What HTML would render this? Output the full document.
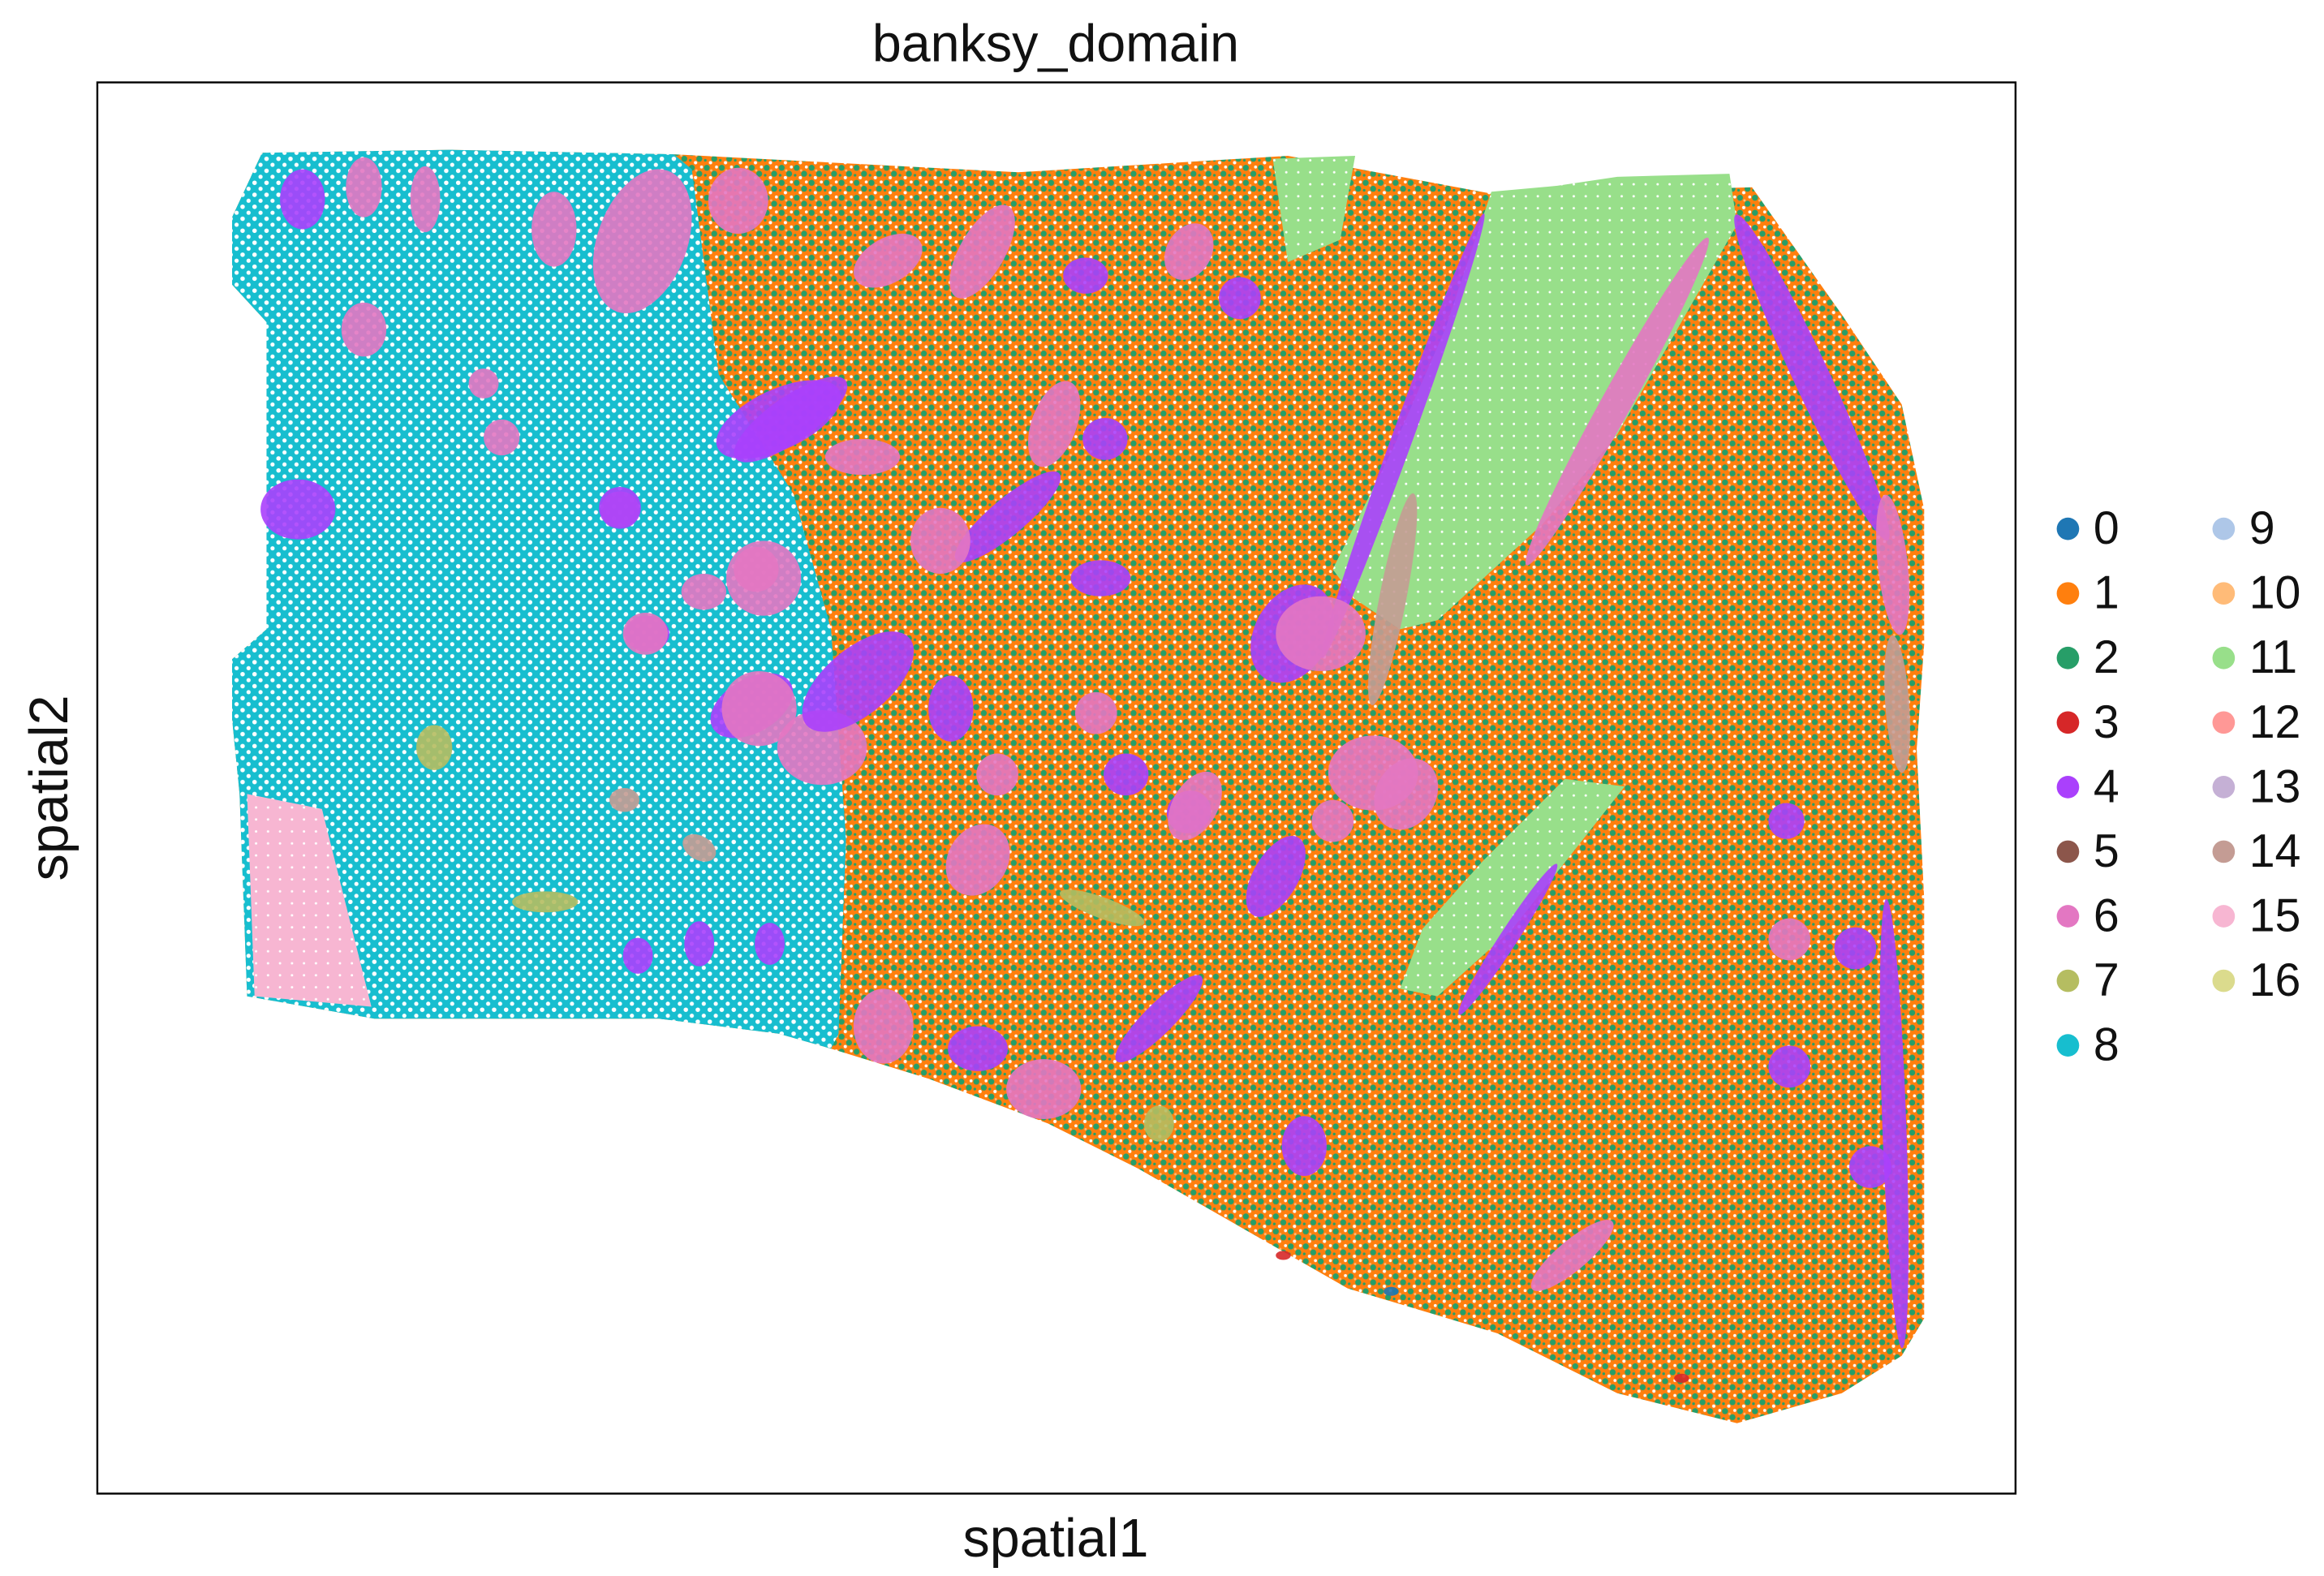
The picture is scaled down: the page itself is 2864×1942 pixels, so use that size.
<!DOCTYPE html>
<html><head><meta charset="utf-8"><style>
html,body{margin:0;padding:0;background:#fff}
svg{display:block}
text{font-family:"Liberation Sans","DejaVu Sans",sans-serif;fill:#111}
</style></head><body>
<svg id="chart" width="2864" height="1942" viewBox="0 0 1552 1052" preserveAspectRatio="none" xmlns="http://www.w3.org/2000/svg">
<defs>
<pattern id="mix" width="10" height="10" patternUnits="userSpaceOnUse">
<rect width="10" height="10" fill="#ff7f0e"/>
<circle cx="2" cy="2" r="2" fill="#279e68"/><circle cx="7" cy="6" r="2" fill="#279e68"/>
<circle cx="4.5" cy="8.6" r="1.1" fill="#fff"/><circle cx="8.5" cy="1.5" r="1" fill="#fff"/>
<circle cx="1" cy="7" r="0.9" fill="#279e68"/><circle cx="5" cy="3.8" r="0.8" fill="#ffbb78"/>
</pattern>
<pattern id="cyan" width="8" height="8" patternUnits="userSpaceOnUse">
<rect width="8" height="8" fill="#17becf"/>
<circle cx="2" cy="2" r="1.5" fill="#fff"/><circle cx="6" cy="6" r="1.4" fill="#fff"/>
</pattern>
<pattern id="lg" width="8" height="8" patternUnits="userSpaceOnUse">
<rect width="8" height="8" fill="#98df8a"/><circle cx="3" cy="3" r="0.8" fill="#fff"/>
</pattern>
<pattern id="pk" width="8" height="8" patternUnits="userSpaceOnUse">
<rect width="8" height="8" fill="#f7b6d2"/><circle cx="3" cy="3" r="0.8" fill="#fff"/>
</pattern>
</defs>
<g id="plot"></g>
<rect x="65" y="55" width="1281" height="942" fill="none" stroke="#000" stroke-width="1.3"/>
<text x="705" y="41" font-size="35" text-anchor="middle">banksy_domain</text>
<text x="705" y="1039" font-size="36" text-anchor="middle">spatial1</text>
<text x="45" y="526" font-size="36" text-anchor="middle" transform="rotate(-90 45 526)">spatial2</text>
<g id="legend"></g>
</svg>
<script>
const categories=["0","1","2","3","4","5","6","7","8","9","10","11","12","13","14","15","16"];
const colors=["#1f77b4","#ff7f0e","#279e68","#d62728","#aa40fc","#8c564b","#e377c2","#b5bd61","#17becf","#aec7e8","#ffbb78","#98df8a","#ff9896","#c5b0d5","#c49c94","#f7b6d2","#dbdb8d"];
const tissueX=[175,300,450,680,860,1000,1170,1230,1270,1285,1285,1280,1285,1285,1270,1230,1160,1080,1000,900,830,760,700,620,555,520,440,340,250,165,160,155,155,178,178,155,155];
const tissueY=[102,100,103,115,104,130,125,210,270,340,430,500,600,880,905,930,950,930,890,860,820,780,750,720,700,690,680,680,680,665,530,480,440,420,215,190,145];
const cyanX=[175,300,450,462,480,530,555,565,560,555,520,440,340,250,165,160,155,155,178,178,155,155];
const cyanY=[102,100,103,113,250,330,420,560,690,700,690,680,680,680,665,530,480,440,420,215,190,145];
const green1X=[996,1040,1080,1155,1160,1120,1080,1030,960,935,905,890,930,965];
const green1Y=[128,124,118,116,150,220,290,350,414,420,400,380,300,220];
const green2X=[850,905,895,860];
const green2Y=[106,104,160,175];
const green3X=[1045,1085,1010,960,935,950,990];
const green3Y=[520,525,620,665,660,620,575];
const pinkX=[165,215,235,248,170];
const pinkY=[530,540,620,672,665];
// blobs: center x, center y, radius x, radius y, angle, cluster
const blobCx=[202,243,284,370,429,243,323,335,199,414,520,505,432,470,502,549,467,426,514,290,364,417,467,
493,593,656,725,794,828,528,576,704,738,414,673,628,510,735,431,573,507,635,732,863,666,752,794,890,
1080,937,882,930,1210,1264,1267,917,1193,
1007,798,939,653,590,653,697,852,774,871,1050,1195,1239,1195,1249,1265,736,774,857,929,1123];
const blobCy=[133,125,133,153,161,220,256,292,340,340,280,380,423,395,471,499,630,638,630,499,602,534,566,
134,174,168,184,168,199,280,305,283,293,339,345,361,386,386,423,455,473,473,476,423,517,517,542,548,
268,291,423,400,252,377,470,516,548,
627,538,530,574,685,700,727,585,680,765,838,627,633,712,779,750,606,750,838,862,920];
const blobRx=[15,12,10,15,30,15,10,12,25,13,45,15,15,15,30,30,10,10,10,12,22,10,12,
20,25,15,15,15,14,45,25,15,15,14,45,20,25,20,15,45,25,15,14,25,14,15,15,14,
125,158,30,72,120,47,46,30,12,
60,15,20,20,20,20,25,15,40,15,35,14,14,14,14,150,30,10,5,5,5];
const blobRy=[20,20,22,25,50,18,10,12,20,12,20,15,12,12,18,25,15,12,14,15,7,8,8,
22,15,35,12,20,14,15,12,30,14,14,12,22,25,12,14,22,25,22,14,35,14,14,14,14,
10,7,25,9,12,10,8,25,12,
6,25,25,25,25,15,20,30,10,20,10,14,14,14,14,8,7,12,3,3,3];
const blobAng=[0,0,0,0,20,0,0,0,0,0,-25,0,0,0,-30,0,0,0,0,0,0,0,30,
0,-30,30,0,30,0,-35,0,20,0,0,-40,0,0,0,0,-40,0,0,0,30,0,0,-30,0,
119,110,0,101,65,84,86,0,0,
-57,30,30,30,0,0,0,30,-45,0,-40,0,0,0,0,88,20,0,0,0,0];
const blobCl=[4,6,6,6,6,6,6,6,4,6,4,6,4,6,4,6,4,4,4,7,7,14,14,
6,6,6,4,6,4,4,6,6,4,4,4,6,6,4,6,4,6,4,6,4,6,4,4,6,
6,4,6,14,4,6,14,6,4,
4,6,6,6,6,4,6,4,4,4,6,6,4,4,4,4,7,7,3,0,3];

const xmin=65,xmax=1346,ymin=55,ymax=997;
function xs(v){return 65+(v-xmin)/(xmax-xmin)*1281;}
function ys(v){return 55+(v-ymin)/(ymax-ymin)*942;}
const NS="http://www.w3.org/2000/svg";
const plot=document.getElementById('plot');
function poly(X,Y,fill,name){
  const p=document.createElementNS(NS,'polygon');
  p.setAttribute('points',X.map((x,i)=>xs(x)+','+ys(Y[i])).join(' '));
  p.setAttribute('fill',fill);
  
  
  plot.appendChild(p);
}
poly(tissueX,tissueY,'url(#mix)','tissue-domain-1-2');
poly(cyanX,cyanY,'url(#cyan)','domain-8-region');
poly(green1X,green1Y,'url(#lg)','domain-11-region-main');
poly(green2X,green2Y,'url(#lg)','domain-11-region-top');
poly(green3X,green3Y,'url(#lg)','domain-11-region-lower');
poly(pinkX,pinkY,'url(#pk)','domain-15-region');
for(let i=0;i<blobCx.length;i++){
  const e=document.createElementNS(NS,'ellipse');
  const cx=xs(blobCx[i]),cy=ys(blobCy[i]);
  e.setAttribute('cx',cx);e.setAttribute('cy',cy);
  e.setAttribute('rx',blobRx[i]);e.setAttribute('ry',blobRy[i]);
  e.setAttribute('transform','rotate('+blobAng[i]+' '+cx+' '+cy+')');
  e.setAttribute('fill',colors[blobCl[i]]);
  e.setAttribute('opacity','0.9');
  
  
  plot.appendChild(e);
}
const leg=document.getElementById('legend');
categories.forEach((c,i)=>{
  const col=i<9?0:1,row=i<9?i:i-9;
  const mx=col?1485:1381, y=353+row*43.1;
  const g=document.createElementNS(NS,'g');
  
  
  const m=document.createElementNS(NS,'circle');
  m.setAttribute('cx',mx);m.setAttribute('cy',y);m.setAttribute('r',7.5);m.setAttribute('fill',colors[i]);
  
  
  const t=document.createElementNS(NS,'text');
  t.setAttribute('x',mx+17);t.setAttribute('y',y+10);t.setAttribute('font-size','31');
  t.textContent=c;
  
  
  g.appendChild(m);g.appendChild(t);leg.appendChild(g);
});
</script>
</body></html>
